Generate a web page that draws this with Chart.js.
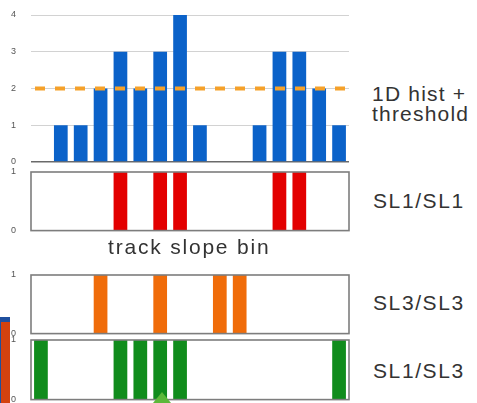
<!DOCTYPE html>
<html><head><meta charset="utf-8">
<script src="https://cdn.jsdelivr.net/npm/chart.js@4"></script>
<style>
html,body{margin:0;padding:0;background:#fff;width:477px;height:403px;overflow:hidden;position:relative}
.box{position:absolute;left:0}
.box canvas{display:block}
.lbl{position:absolute;font-family:"Liberation Sans",Arial,sans-serif;font-size:21px;line-height:21px;color:#333;letter-spacing:1.2px;white-space:nowrap}
</style></head><body>
<div class="box" style="top:0;width:350px;height:170px"><canvas id="cHist" width="350" height="170"></canvas></div>
<div class="box" style="top:160px;width:350px;height:76px"><canvas id="cS11" width="350" height="76"></canvas></div>
<div class="box" style="top:262px;width:350px;height:77px"><canvas id="cS33" width="350" height="77"></canvas></div>
<div class="box" style="top:330px;width:350px;height:75px"><canvas id="cS13" width="350" height="75"></canvas></div>

<div class="lbl" style="left:372px;top:83px">1D hist +</div>
<div class="lbl" style="left:372px;top:103px">threshold</div>
<div class="lbl" style="left:373px;top:190px;letter-spacing:1.6px">SL1/SL1</div>
<div class="lbl" style="left:373px;top:292px;letter-spacing:1.6px">SL3/SL3</div>
<div class="lbl" style="left:373px;top:360px;letter-spacing:1.6px">SL1/SL3</div>
<div class="lbl" style="left:108px;top:236px;letter-spacing:1.8px">track slope bin</div>

<div style="position:absolute;left:0;top:317px;width:10px;height:86px;background:#1f4f9e"></div>
<div style="position:absolute;left:1px;top:322px;width:9px;height:81px;background:#d4420f"></div>
<div style="position:absolute;left:153px;top:392px;width:0;height:0;border-left:9px solid transparent;border-right:9px solid transparent;border-bottom:11px solid #5cb83a"></div>

<script>
// ---- data ----
const bins = ['0','1','2','3','4','5','6','7','8','9','10','11','12','13','14','15'];
const histCounts = [0,1,1,2,3,2,3,4,1,0,0,1,3,3,2,1];
const threshold = 2;
const sl1sl1 = [0,0,0,0,1,0,1,1,0,0,0,0,1,1,0,0];
const sl3sl3 = [0,0,0,1,0,0,1,0,0,1,1,0,0,0,0,0];
const sl1sl3 = [1,0,0,0,1,1,1,1,0,0,0,0,0,0,0,1];
const histTicks = [0,1,2,3,4];
const binaryTicks = [0,1];

const LABEL_X = 11;
const AXIS_W = 20;
const tickFont = {family:'"Liberation Sans", Arial, sans-serif', size:9};

const thresholdPlugin = {
  id:'thresholdLine',
  afterDatasetsDraw(chart){
    const {ctx, chartArea, scales} = chart;
    const y = scales.y.getPixelForValue(threshold);
    ctx.save();
    ctx.strokeStyle = '#f5a12a';
    ctx.lineWidth = 4;
    ctx.setLineDash([10,10]);
    ctx.beginPath();
    ctx.moveTo(chartArea.left + 4, y);
    ctx.lineTo(chartArea.right, y);
    ctx.stroke();
    ctx.restore();
  }
};
const framePlugin = {
  id:'frame',
  afterDatasetsDraw(chart){
    const {ctx, chartArea:a} = chart;
    ctx.save();
    ctx.strokeStyle = '#7d7d7d';
    ctx.lineWidth = 1.6;
    ctx.strokeRect(a.left, a.top, a.right - a.left, a.bottom - a.top);
    ctx.restore();
  }
};

function yAxis(max, ticksArr, grid){
  return {
    min:0, max:max,
    afterFit(s){ s.width = AXIS_W; },
    afterBuildTicks(s){ s.ticks = ticksArr.map(v => ({value:v})); },
    ticks:{color:'#555', font:tickFont, padding:0, crossAlign:'far'},
    grid: grid,
    border:{display:false}
  };
}

new Chart(document.getElementById('cHist'), {
  type:'bar',
  data:{labels:bins, datasets:[{data:histCounts, backgroundColor:'#0b62c9', barPercentage:0.69, categoryPercentage:1}]},
  options:{
    responsive:false, animation:false, devicePixelRatio:1,
    layout:{padding:{top:15, bottom:8, left:LABEL_X, right:1}},
    plugins:{legend:{display:false}, tooltip:{enabled:false}},
    scales:{
      x:{display:false},
      y:yAxis(4, histTicks, {drawTicks:false, color:c => c.tick && c.tick.value === 0 ? '#6a6a6a' : '#d2d2d2', lineWidth:c => c.tick && c.tick.value === 0 ? 1.6 : 1})
    }
  },
  plugins:[thresholdPlugin]
});

function binary(id, data, color, padTop, padBottom){
  new Chart(document.getElementById(id), {
    type:'bar',
    data:{labels:bins, datasets:[{data:data, backgroundColor:color, barPercentage:0.69, categoryPercentage:1}]},
    options:{
      responsive:false, animation:false, devicePixelRatio:1,
      layout:{padding:{top:padTop, bottom:padBottom, left:LABEL_X, right:1}},
      plugins:{legend:{display:false}, tooltip:{enabled:false}},
      scales:{
        x:{display:false},
        y:yAxis(1, binaryTicks, {display:false, drawTicks:false})
      }
    },
    plugins:[framePlugin]
  });
}
binary('cS11', sl1sl1, '#e30000', 12, 2);
binary('cS33', sl3sl3, '#f06c0a', 13, 4);
binary('cS13', sl1sl3, '#108c1c', 10, 4);
</script>
</body></html>
